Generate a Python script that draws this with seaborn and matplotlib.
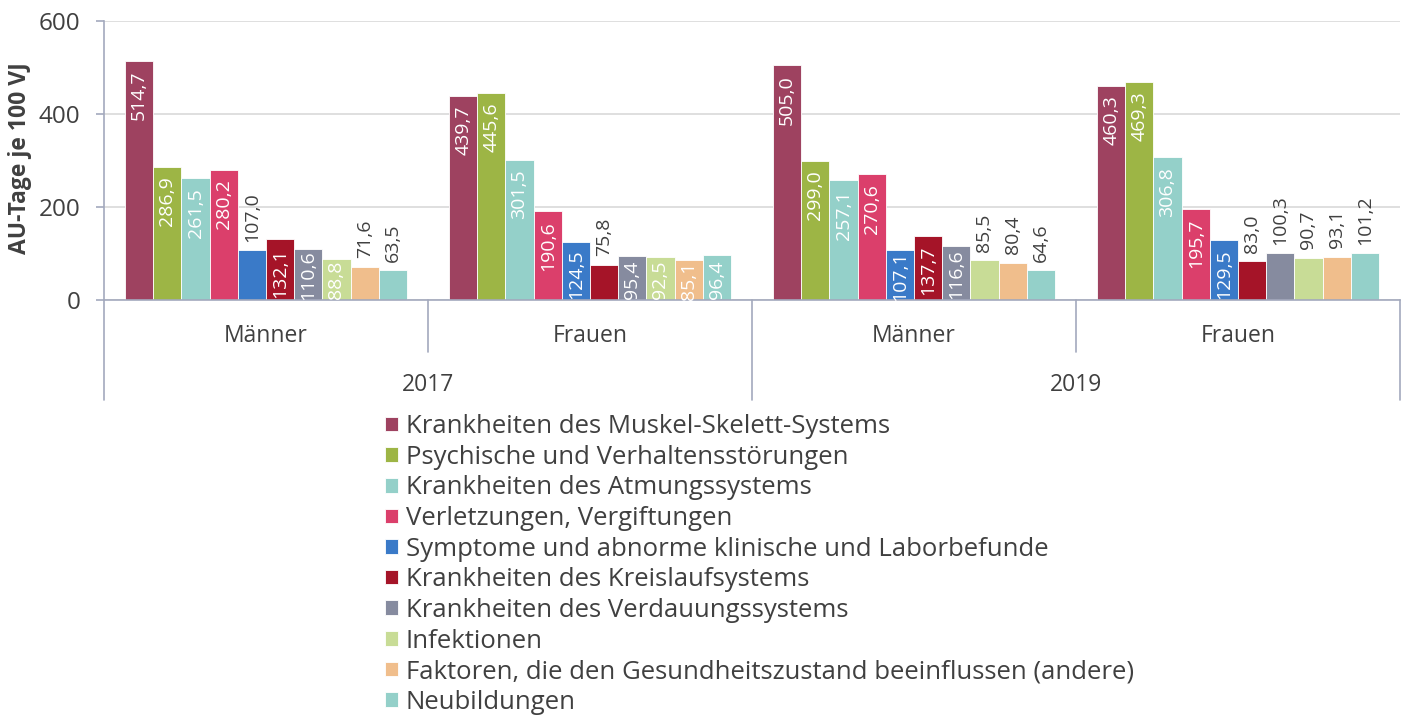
import pandas as pd
import seaborn as sns
import matplotlib.pyplot as plt
from matplotlib import transforms

# data
groups = ["2017 Männer", "2017 Frauen", "2019 Männer", "2019 Frauen"]
group_labels = ["Männer", "Frauen", "Männer", "Frauen"]
years = ["2017", "2019"]
categories = [
    "Krankheiten des Muskel-Skelett-Systems",
    "Psychische und Verhaltensstörungen",
    "Krankheiten des Atmungssystems",
    "Verletzungen, Vergiftungen",
    "Symptome und abnorme klinische und Laborbefunde",
    "Krankheiten des Kreislaufsystems",
    "Krankheiten des Verdauungssystems",
    "Infektionen",
    "Faktoren, die den Gesundheitszustand beeinflussen (andere)",
    "Neubildungen",
]
m2017 = [514.7, 286.9, 261.5, 280.2, 107.0, 132.1, 110.6, 88.8, 71.6, 63.5]
f2017 = [439.7, 445.6, 301.5, 190.6, 124.5, 75.8, 95.4, 92.5, 85.1, 96.4]
m2019 = [505.0, 299.0, 257.1, 270.6, 107.1, 137.7, 116.6, 85.5, 80.4, 64.6]
f2019 = [460.3, 469.3, 306.8, 195.7, 129.5, 83.0, 100.3, 90.7, 93.1, 101.2]
# labels drawn above the bar instead of inside (group index, category index)
outside = {(0, 4), (0, 8), (0, 9), (1, 5), (2, 7), (2, 8), (2, 9),
           (3, 5), (3, 6), (3, 7), (3, 8), (3, 9)}

colors = ["#9e4260", "#9db545", "#94d0c9", "#db3f6b", "#3a7ac8",
          "#a51428", "#868b9f", "#c8dc96", "#f0be8c", "#94d0c9"]

rows = []
for g, vals in zip(groups, [m2017, f2017, m2019, f2019]):
    for c, v in zip(categories, vals):
        rows.append({"group": g, "category": c, "value": v})
df = pd.DataFrame(rows)

sns.set_theme(style="white")
plt.rcParams["font.family"] = ["Open Sans", "DejaVu Sans"]
axis_color = "#a3a9bd"
text_color = "#404040"

fig = plt.figure(figsize=(14.07, 7.16), dpi=100)
ax = fig.add_axes([104 / 1407, 1 - 300 / 716, 1296 / 1407, 279 / 716])

sns.barplot(data=df, x="group", y="value", hue="category", order=groups,
            hue_order=categories, palette=colors, width=0.87, ax=ax,
            edgecolor="white", linewidth=0.6, saturation=1)

ax.set_ylim(0, 600)
ax.set_xlim(-0.5, 3.5)
ax.set_yticks([0, 200, 400, 600])
ax.yaxis.grid(True, color="#d9d9d9", linewidth=1.2)
ax.set_axisbelow(True)
for s in ["top", "right"]:
    ax.spines[s].set_visible(False)
for s in ["left", "bottom"]:
    ax.spines[s].set_color(axis_color)
    ax.spines[s].set_linewidth(1.2)
ax.tick_params(axis="y", left=True, length=6, width=1.2, color=axis_color,
               pad=11, labelsize=17.5, labelcolor=text_color)
ax.set_xticks([])
ax.set_xlabel("")
ax.set_ylabel("AU-Tage je 100 VJ", fontsize=16.5, fontweight="bold",
              color=text_color)
ax.yaxis.set_label_coords(-0.0555, 0.51)

# value labels
inside_labels = []
for ci, cont in enumerate(ax.containers):
    for gi, bar in enumerate(cont):
        h = bar.get_height()
        x = bar.get_x() + bar.get_width() / 2
        txt = f"{h:.1f}".replace(".", ",")
        if (gi, ci) in outside:
            ax.annotate(txt, (x, h), xytext=(0, 6), textcoords="offset points",
                        rotation=90, ha="center", va="bottom", fontsize=14,
                        color=text_color)
        else:
            ann = ax.annotate(txt, (x, h), xytext=(0, -7),
                              textcoords="offset points", rotation=90,
                              ha="center", va="top", fontsize=14,
                              color="white")
            inside_labels.append(ann)

# push inside labels up when they would run past the bar bottom
fig.canvas.draw()
renderer = fig.canvas.get_renderer()
base_y = ax.transData.transform((0, 0))[1]
px_per_pt = fig.dpi / 72
for ann in inside_labels:
    ext = ann.get_window_extent(renderer)
    if ext.y0 < base_y + 1:
        shift = (base_y + 1 - ext.y0) / px_per_pt
        ann.xyann = (0, min(-1.0, -7 + shift))

# two-level category axis
trans = transforms.blended_transform_factory(ax.transData, ax.transAxes)
for xb in [-0.5, 1.5, 3.5]:
    ax.plot([xb, xb], [0, -100 / 279], transform=trans, clip_on=False,
            color=axis_color, linewidth=1.2)
for xb in [0.5, 2.5]:
    ax.plot([xb, xb], [0, -52 / 279], transform=trans, clip_on=False,
            color=axis_color, linewidth=1.2)
for i, lab in enumerate(group_labels):
    ax.text(i, -36 / 279, lab, transform=trans, ha="center", va="center",
            fontsize=16.5, color=text_color)
for i, yr in enumerate(years):
    ax.text(2 * i + 0.5, -85 / 279, yr, transform=trans, ha="center",
            va="center", fontsize=16.5, color=text_color)

handles, labels = ax.get_legend_handles_labels()
ax.get_legend().remove()
fig.legend(handles, labels, loc="upper left",
           bbox_to_anchor=(385 / 1407, 1 - 414 / 716), frameon=False,
           fontsize=18.5, labelcolor=text_color, handlelength=0.5,
           handleheight=0.5, handletextpad=0.3, labelspacing=0.22,
           borderaxespad=0, borderpad=0)

fig.savefig("out.png", dpi=100)
